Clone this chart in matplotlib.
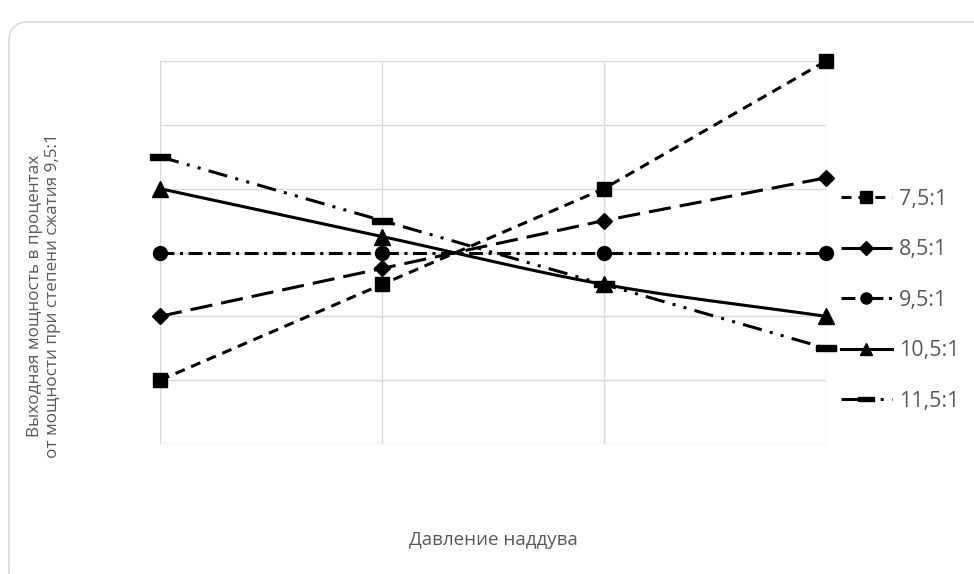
import numpy as np
import matplotlib
matplotlib.use("Agg")
import matplotlib.pyplot as plt
from matplotlib.patches import FancyBboxPatch

plt.rcParams['font.family'] = ['Open Sans', 'DejaVu Sans']
plt.rcParams['lines.scale_dashes'] = False

x_pos = [0, 1, 2, 3]
labels = ["7,5:1", "8,5:1", "9,5:1", "10,5:1", "11,5:1"]
s75 = [80, 95, 110, 130]
s85 = [90, 97.5, 105, 111.7]
s95 = [100, 100, 100, 100]
s105 = [110, 102.5, 95, 90]
s115 = [115, 105, 95, 85]

W, H = 974, 574
fig = plt.figure(figsize=(W / 100, H / 100), dpi=100)

# outer chart border
border = FancyBboxPatch((9 / W, 1 - 590 / H), (1000 - 9) / W, (590 - 22) / H,
                        boxstyle="round,pad=0,rounding_size=0.02",
                        transform=fig.transFigure, facecolor='none',
                        edgecolor='#d9d9d9', lw=1.2, mutation_aspect=W / H)
fig.patches.append(border)

ax = fig.add_axes([160 / W, 1 - 444 / H, (826 - 160) / W, (444 - 61) / H])
ax.set_xlim(0, 3)
ax.set_ylim(70, 130)
ax.set_xticks(x_pos)
ax.set_yticks(np.arange(70, 131, 10))
ax.grid(True, color='#d9d9d9', lw=1)
ax.set_axisbelow(True)
for s in ax.spines.values():
    s.set_visible(False)
ax.tick_params(length=0, labelbottom=False, labelleft=False)

lw = 2.2
rect_marker = [(-1, -0.28), (1, -0.28), (1, 0.28), (-1, 0.28), (-1, -0.28)]


def smooth(xs, ys, n=30):
    xs = np.asarray(xs, float)
    ys = np.asarray(ys, float)
    P = np.column_stack([xs, ys])
    P = np.vstack([P[0] - (P[1] - P[0]), P, P[-1] + (P[-1] - P[-2])])
    out = []
    for i in range(1, len(P) - 2):
        p0, p1, p2, p3 = P[i - 1], P[i], P[i + 1], P[i + 2]
        t = np.linspace(0, 1, n)[:, None]
        c = 0.5 * ((2 * p1) + (-p0 + p2) * t + (2 * p0 - 5 * p1 + 4 * p2 - p3) * t ** 2
                   + (-p0 + 3 * p1 - 3 * p2 + p3) * t ** 3)
        out.append(c if i == len(P) - 3 else c[:-1])
    out = np.vstack(out)
    return out[:, 0], out[:, 1]


kw = dict(color='black', lw=lw, clip_on=False)
h1, = ax.plot(x_pos, s75, marker='s', ms=10, dashes=(7.2, 5), label=labels[0], **kw)
h2, = ax.plot(x_pos, s85, marker='D', ms=8.5, dashes=(16, 6.5), label=labels[1], **kw)
h3, = ax.plot(x_pos, s95, marker='o', ms=10, dashes=(10, 4, 2.2, 4), label=labels[2], **kw)
sx, sy = smooth(x_pos, s105)
ax.plot(sx, sy, **kw)
ax.plot(x_pos, s105, marker='^', ms=11, ls='none', color='black', clip_on=False)
h4, = ax.plot([], [], marker='^', ms=11, label=labels[3], color='black', lw=lw)
h5, = ax.plot(x_pos, s115, marker=rect_marker, ms=15, dashes=(14, 6, 2.2, 6, 2.2, 6),
              label=labels[4], **kw)

leg = fig.legend(handles=[h1, h2, h3, h4, h5], loc='upper left',
                 bbox_to_anchor=(832 / W, 1 - 180 / H), frameon=False,
                 fontsize=15.5, labelcolor='#595959', handlelength=2.4,
                 handletextpad=0.3, labelspacing=1.37, borderaxespad=0,
                 markerscale=0.8)

fig.text(493 / W, 1 - 540 / H, "Давление наддува", fontsize=13.5, color='#595959',
         ha='center', va='center')
fig.text(44 / W, 1 - 296 / H,
         "Выходная мощность в процентах\nот мощности при степени сжатия 9,5:1",
         rotation=90, ha='center', va='center', fontsize=12.3, color='#595959',
         linespacing=1.15)

fig.savefig("out.png", dpi=100)
